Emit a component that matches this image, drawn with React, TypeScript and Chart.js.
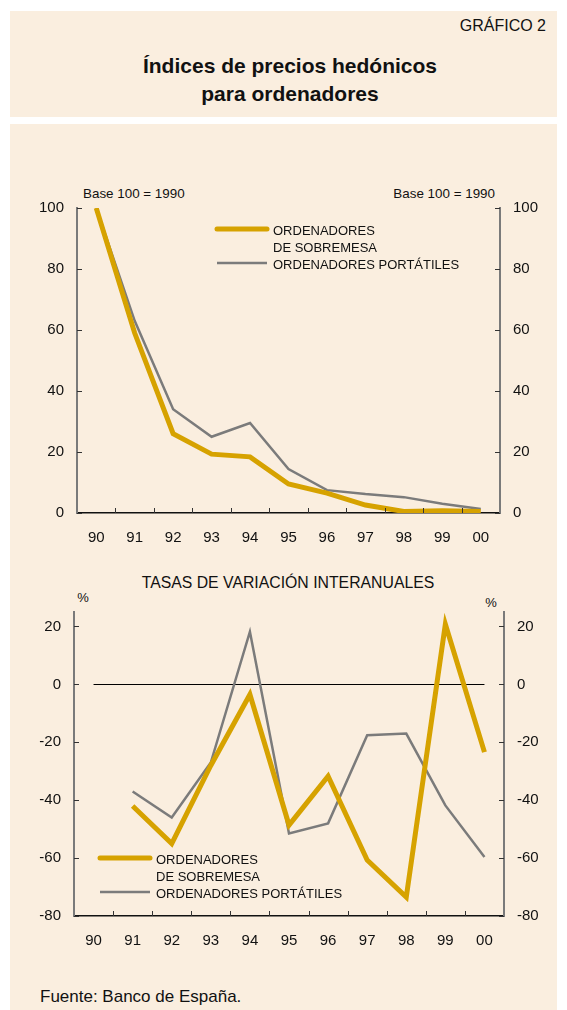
import React, { useEffect, useRef } from 'react';
import { Chart, registerables } from 'chart.js';

Chart.register(...registerables);

const years = ['90', '91', '92', '93', '94', '95', '96', '97', '98', '99', '00'];
const indexDesktop = [100, 59, 26, 19.3, 18.4, 9.5, 6.5, 2.6, 0.5, 0.7, 0.5];
const indexLaptop = [100, 63, 34, 25, 29.5, 14.4, 7.5, 6.2, 5.2, 3, 1.3];
const indexTicks = [0, 20, 40, 60, 80, 100];
const rateDesktop = [null, -42, -55, -28, -3.5, -48.6, -31.7, -60.7, -73.5, 20.8, -23.4];
const rateLaptop = [null, -37, -46, -27, 18.2, -51.5, -48, -17.6, -17, -41.8, -59.6];
const rateTicks = [-80, -60, -40, -20, 0, 20];
const seriesNames = [['ORDENADORES', 'DE SOBREMESA'], ['ORDENADORES PORTÁTILES']];

const FONT = "'Liberation Sans', Arial, sans-serif";
const YELLOW = '#D6A200';
const GREY = '#7B7B7B';
const AXIS_GREY = '#7A7A7A';
const BG = '#FAEEDF';

const inwardTicks = {
  id: 'inwardTicks',
  afterDraw(chart: any) {
    const { ctx, chartArea, scales } = chart;
    const x = scales.x;
    ctx.save();
    ctx.strokeStyle = '#333';
    ctx.lineWidth = 1;
    const n = x.ticks.length;
    for (let i = 0; i < n - 1; i++) {
      const px = Math.round((x.getPixelForValue(i) + x.getPixelForValue(i + 1)) / 2) + 0.5;
      ctx.beginPath();
      ctx.moveTo(px, chartArea.bottom);
      ctx.lineTo(px, chartArea.bottom - 5);
      ctx.stroke();
    }
    ['yL', 'yR'].forEach((id) => {
      const s = scales[id];
      const left = id === 'yL';
      s.ticks.forEach((t: any) => {
        const py = Math.round(s.getPixelForValue(t.value)) + 0.5;
        const ax = left ? chartArea.left : chartArea.right;
        ctx.beginPath();
        ctx.moveTo(ax, py);
        ctx.lineTo(left ? ax + 5 : ax - 5, py);
        ctx.stroke();
      });
    });
    ctx.restore();
  },
};

const zeroLine = {
  id: 'zeroLine',
  beforeDatasetsDraw(chart: any, _a: any, opts: any) {
    if (!opts || !opts.show) return;
    const { ctx, scales } = chart;
    const x = scales.x;
    const y = Math.round(scales.yL.getPixelForValue(0)) + 0.5;
    ctx.save();
    ctx.strokeStyle = '#000';
    ctx.lineWidth = 1;
    ctx.beginPath();
    ctx.moveTo(x.getPixelForValue(0), y);
    ctx.lineTo(x.getPixelForValue(years.length - 1), y);
    ctx.stroke();
    ctx.restore();
  },
};

const customLegend = {
  id: 'customLegend',
  afterDraw(chart: any, _a: any, opts: any) {
    if (!opts || opts.x == null) return;
    const { ctx } = chart;
    const { x, y } = opts;
    ctx.save();
    ctx.font = `13px ${FONT}`;
    ctx.fillStyle = '#111';
    ctx.textBaseline = 'middle';
    ctx.textAlign = 'left';
    chart.data.datasets.forEach((ds: any, i: number) => {
      const ly = i === 0 ? y : y + 34;
      ctx.strokeStyle = ds.borderColor;
      ctx.lineWidth = ds.borderWidth;
      ctx.lineCap = i === 0 ? 'round' : 'butt';
      ctx.beginPath();
      ctx.moveTo(x, ly);
      ctx.lineTo(x + 50, ly);
      ctx.stroke();
      const lines = seriesNames[i];
      lines.forEach((ln: string, k: number) => {
        ctx.fillText(ln, x + 56, ly + 2 + k * 17);
      });
    });
    ctx.restore();
  },
};

function makeConfig(
  d1: (number | null)[],
  d2: (number | null)[],
  min: number,
  max: number,
  tickVals: number[],
  padding: any,
  legendPos: { x: number; y: number },
  showZero: boolean
): any {
  const yScale = (position: 'left' | 'right') => ({
    type: 'linear',
    position,
    min,
    max,
    afterBuildTicks: (s: any) => {
      s.ticks = tickVals.map((v) => ({ value: v }));
    },
    afterFit: (s: any) => {
      s.width = 50;
    },
    grid: { display: false, drawTicks: false },
    border: { display: true, color: AXIS_GREY, width: 2 },
    ticks: {
      padding: 13,
      color: '#111',
      font: { family: FONT, size: 15 },
    },
  });
  return {
    type: 'line',
    data: {
      labels: years,
      datasets: [
        {
          label: seriesNames[0].join(' '),
          data: d1,
          borderColor: YELLOW,
          backgroundColor: YELLOW,
          borderWidth: 5,
          pointRadius: 0,
          tension: 0,
          yAxisID: 'yL',
        },
        {
          label: seriesNames[1].join(' '),
          data: d2,
          borderColor: GREY,
          backgroundColor: GREY,
          borderWidth: 2.5,
          pointRadius: 0,
          tension: 0,
          yAxisID: 'yL',
        },
      ],
    },
    options: {
      animation: false,
      responsive: false,
      maintainAspectRatio: false,
      devicePixelRatio: 1,
      layout: { padding },
      plugins: {
        legend: { display: false },
        tooltip: { enabled: false },
        customLegend: legendPos,
        zeroLine: { show: showZero },
      },
      scales: {
        x: {
          type: 'category',
          offset: true,
          afterFit: (s: any) => {
            s.height = 30;
          },
          grid: { display: false, drawTicks: false },
          border: { display: true, color: '#111', width: 1.5 },
          ticks: {
            padding: 16,
            color: '#111',
            maxRotation: 0,
            autoSkip: false,
            font: { family: FONT, size: 15 },
          },
        },
        yL: yScale('left'),
        yR: yScale('right'),
      },
    },
    plugins: [inwardTicks, zeroLine, customLegend],
  };
}

function ChartCanvas({ config, top, height }: { config: () => any; top: number; height: number }) {
  const ref = useRef<HTMLCanvasElement>(null);
  useEffect(() => {
    if (!ref.current) return;
    const chart = new Chart(ref.current, config());
    return () => chart.destroy();
  }, []);
  return (
    <canvas
      ref={ref}
      width={567}
      height={height}
      style={{ position: 'absolute', left: 0, top, width: 567, height }}
    />
  );
}

function Txt({
  children,
  x,
  y,
  size,
  align = 'left',
  bold = false,
}: {
  children: React.ReactNode;
  x: number;
  y: number;
  size: number;
  align?: 'left' | 'center' | 'right';
  bold?: boolean;
}) {
  const lh = Math.round(size * 1.3);
  const style: React.CSSProperties = {
    position: 'absolute',
    top: y - lh / 2,
    lineHeight: `${lh}px`,
    fontSize: size,
    fontWeight: bold ? 'bold' : 'normal',
    whiteSpace: 'nowrap',
    color: '#111',
  };
  if (align === 'left') style.left = x;
  else if (align === 'right') style.right = 567 - x;
  else {
    style.left = x - 300;
    style.width = 600;
    style.textAlign = 'center';
  }
  return <div style={style}>{children}</div>;
}

export default function App() {
  return (
    <div
      style={{
        position: 'absolute',
        left: 0,
        top: 0,
        width: 567,
        height: 1010,
        background: '#fff',
        fontFamily: FONT,
        overflow: 'hidden',
      }}
    >
      <div style={{ position: 'absolute', left: 10, top: 11, width: 547, height: 106, background: BG }} />
      <div style={{ position: 'absolute', left: 10, top: 124, width: 547, height: 886, background: BG }} />
      <Txt x={546} y={25} size={16} align="right">GRÁFICO 2</Txt>
      <Txt x={290} y={65} size={21} align="center" bold>Índices de precios hedónicos</Txt>
      <Txt x={290} y={93} size={21} align="center" bold>para ordenadores</Txt>
      <Txt x={83} y={193} size={13.4}>Base 100 = 1990</Txt>
      <Txt x={495} y={193} size={13.4} align="right">Base 100 = 1990</Txt>
      <Txt x={288} y={582} size={15.8} align="center">TASAS DE VARIACIÓN INTERANUALES</Txt>
      <Txt x={83} y={597} size={13} align="center">%</Txt>
      <Txt x={491} y={602} size={13} align="center">%</Txt>
      <Txt x={40} y={997} size={17}>Fuente: Banco de España.</Txt>
      <ChartCanvas
        top={150}
        height={400}
        config={() =>
          makeConfig(indexDesktop, indexLaptop, 0, 100, indexTicks, { top: 58, left: 27, right: 17, bottom: 7 }, { x: 217, y: 79 }, false)
        }
      />
      <ChartCanvas
        top={560}
        height={400}
        config={() =>
          makeConfig(rateDesktop, rateLaptop, -80, 25, rateTicks, { top: 52, left: 24, right: 13, bottom: 14 }, { x: 100, y: 298 }, true)
        }
      />
    </div>
  );
}
